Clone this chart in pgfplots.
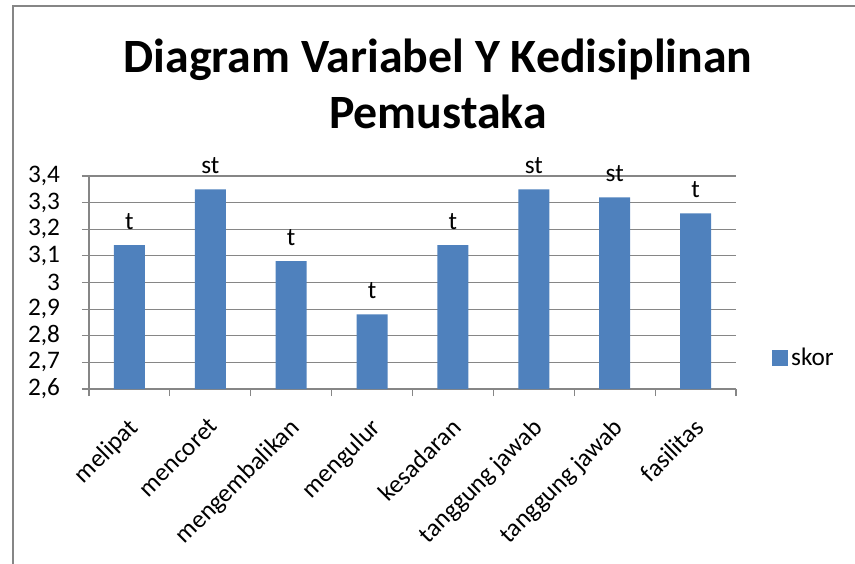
\documentclass[border=0pt]{standalone}
\usepackage{pgfplots}
\pgfplotsset{compat=1.18}
\usepackage{fontspec}
\setmainfont{Carlito}
\definecolor{barblue}{HTML}{4F81BD}
\definecolor{gridgray}{HTML}{868686}
\pgfplotstableread{
x y lab
1 3.14 t
2 3.35 st
3 3.08 t
4 2.88 t
5 3.14 t
6 3.35 st
7 3.32 st
8 3.26 t
}\skordata
\begin{document}
\begin{tikzpicture}
\path[use as bounding box] (0,0) rectangle ({855*0.75bp},{-564*0.75bp});
\draw[gridgray, line width=1.5bp] ({13*0.75bp},{-564*0.75bp}) -- ({13*0.75bp},{-6*0.75bp}) -- ({855*0.75bp},{-6*0.75bp});
\node[font=\fontsize{36}{42}\selectfont\bfseries, align=center] at ({438*0.75bp},{-84*0.75bp}) {Diagram Variabel Y Kedisiplinan\\Pemustaka};
\begin{axis}[
  at={({89*0.75bp},{-389*0.75bp})}, anchor=south west,
  scale only axis, width={647*0.75bp}, height={213*0.75bp},
  xmin=0.5, xmax=8.5, ymin=2.6, ymax=3.4,
  ytick={2.6,2.7,2.8,2.9,3.0,3.1,3.2,3.3,3.4},
  ybar, bar width={31*0.75bp},
  axis lines*=left,
  axis line style={gridgray, line width=0.8bp},
  ymajorgrids, grid style={gridgray, line width=0.8bp},
  tick style={gridgray, line width=0.8bp}, tick align=outside, major tick length={7*0.75bp},
  xtick={0.5,1.5,2.5,3.5,4.5,5.5,6.5,7.5,8.5}, xticklabels={},
  extra x ticks={1,2,3,4,5,6,7,8},
  extra x tick labels={melipat,mencoret,mengembalikan,mengulur,kesadaran,tanggung jawab,tanggung jawab,fasilitas},
  extra x tick style={major tick length=0pt, grid=none, xticklabel style={rotate=45, anchor=north east, inner sep=1pt, yshift=-12bp, xshift=-15bp}},
  ticklabel style={font=\fontsize{19}{22}\selectfont},
  yticklabel style={xshift=-13bp, /pgf/number format/.cd, fixed, precision=1, use comma, assume math mode=true},
  nodes near coords, point meta=explicit symbolic,
  nodes near coords style={font=\fontsize{19}{22}\selectfont, black, yshift=8bp},
  clip=false,
  legend style={at={(1.056,0.146)}, anchor=west, draw=none, fill=none, font=\fontsize{19}{22}\selectfont, inner sep=0pt},
  legend image code/.code={\fill[barblue] (0bp,-6bp) rectangle (12bp,6bp);},
]
\addplot[fill=barblue, draw=none] table[x=x, y=y, meta=lab] {\skordata};
\legend{skor}
\end{axis}
\end{tikzpicture}
\end{document}
